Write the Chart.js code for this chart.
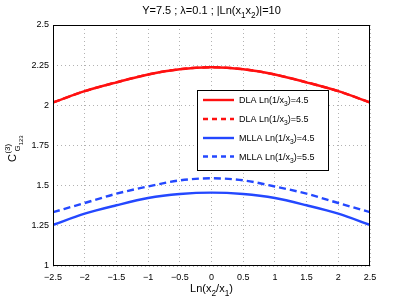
<!DOCTYPE html>
<html>
<head>
<meta charset="utf-8">
<script src="https://cdn.jsdelivr.net/npm/chart.js@4/dist/chart.umd.min.js"></script>
<style>
  body { margin: 0; background: #fff; }
  canvas { display: block; }
</style>
</head>
<body>
<canvas id="myChart" width="409" height="300"></canvas>
<script>
  // values
  var xValues = [-2.5, -2, -1.5, -1, -0.5, 0, 0.5, 1, 1.5, 2, 2.5];
  var dla45 = [2.018, 2.088, 2.143, 2.192, 2.225, 2.237, 2.225, 2.192, 2.143, 2.088, 2.018];
  var dla55 = [2.018, 2.088, 2.143, 2.192, 2.225, 2.237, 2.225, 2.192, 2.143, 2.088, 2.018];
  var mlla45 = [1.256, 1.326, 1.378, 1.423, 1.448, 1.457, 1.448, 1.423, 1.378, 1.326, 1.256];
  var mlla55 = [1.335, 1.392, 1.45, 1.495, 1.533, 1.546, 1.533, 1.495, 1.45, 1.392, 1.335];
  var seriesNames = ["DLA Ln(1/x|3|)=4.5", "DLA Ln(1/x|3|)=5.5", "MLLA Ln(1/x|3|)=4.5", "MLLA Ln(1/x|3|)=5.5"];

  var RED = "#ff1010";
  var BLUE = "#2448ff";
  var FONT = "'Liberation Sans', Arial, sans-serif";

  function pts(ys) {
    return xValues.map(function (x, i) { return { x: x, y: ys[i] }; });
  }

  function fmt(v) {
    return String(v).replace("-", "\u2212");
  }

  function makeSet(i, data, color, dashed) {
    return {
      label: seriesNames[i],
      data: pts(data),
      borderColor: color,
      borderWidth: 2.4,
      borderDash: dashed ? [7, 4] : [],
      pointRadius: 0,
      fill: false,
      cubicInterpolationMode: "monotone",
    };
  }

  // text with subscripts: segs = [[text, isSub], ...]
  function drawSegs(ctx, segs, x, y, size, align) {
    var w = 0;
    segs.forEach(function (s) {
      ctx.font = (s[1] ? size * 0.75 : size) + "px " + FONT;
      w += ctx.measureText(s[0]).width;
    });
    if (align === "center") x -= w / 2;
    ctx.textAlign = "left";
    ctx.textBaseline = "alphabetic";
    segs.forEach(function (s) {
      ctx.font = (s[1] ? size * 0.75 : size) + "px " + FONT;
      ctx.fillText(s[0], x, y + (s[1] ? size * 0.32 : 0));
      x += ctx.measureText(s[0]).width;
    });
  }

  var texts = {
    id: "texts",
    afterDraw: function (chart) {
      var ctx = chart.ctx;
      var a = chart.chartArea;
      ctx.save();

      // axes box
      ctx.setLineDash([]);
      ctx.strokeStyle = "#000";
      ctx.lineWidth = 1;
      ctx.strokeRect(Math.round(a.left) + 0.5, Math.round(a.top) + 0.5,
        Math.round(a.right - a.left) - 1, Math.round(a.bottom - a.top) - 1);

      ctx.fillStyle = "#000";
      // title: Y=7.5 ; λ=0.1 ; |Ln(x1x2)|=10
      var cx = (a.left + a.right) / 2;
      var segs = [["Y=7.5 ; \u03bb=0.1 ; |Ln(x", 0], ["1", 1], ["x", 0], ["2", 1], [")|=10", 0]];
      drawSegs(ctx, segs, cx, 14, 11, "center");

      // x label
      drawSegs(ctx, [["Ln(x", 0], ["2", 1], ["/x", 0], ["1", 1], [")", 0]], cx, 292, 11, "center");

      // y label, rotated
      ctx.save();
      ctx.translate(16, 162);
      ctx.rotate(-Math.PI / 2);
      ctx.font = "11px " + FONT;
      ctx.textAlign = "left";
      ctx.fillText("C", 0, 0);
      var cw = ctx.measureText("C").width + 0.5;
      ctx.font = "8px " + FONT;
      ctx.fillText("(3)", cw, -6);
      ctx.fillText("G", cw + 2, 4);
      var gw = ctx.measureText("G").width;
      ctx.font = "6px " + FONT;
      ctx.fillText("123", cw + 2 + gw, 7);
      ctx.restore();

      // legend box
      var lx = 197, ly = 90, lw = 131, lh = 80;
      ctx.fillStyle = "#fff";
      ctx.fillRect(lx, ly, lw, lh);
      ctx.strokeStyle = "#000";
      ctx.lineWidth = 1;
      ctx.strokeRect(lx + 0.5, ly + 0.5, lw, lh);
      var rows = [100, 119, 138, 156.5];
      chart.data.datasets.forEach(function (ds, i) {
        var y = rows[i];
        ctx.strokeStyle = ds.borderColor;
        ctx.lineWidth = 2.4;
        ctx.setLineDash(ds.borderDash.length ? [5, 4] : []);
        ctx.beginPath();
        ctx.moveTo(203, y);
        ctx.lineTo(234, y);
        ctx.stroke();
        ctx.setLineDash([]);
        ctx.fillStyle = "#000";
        var p = ds.label.split("|");
        drawSegs(ctx, [[p[0], 0], [p[1], 1], [p[2], 0]], 239, y + 3.3, 9, "left");
      });
      ctx.restore();
    },
  };

  var grid = {
    color: "rgba(0,0,0,0.3)",
    lineWidth: 1,
    drawTicks: false,
  };

  var ctx = document.getElementById("myChart").getContext("2d");
  var chart = new Chart(ctx, {
    type: "line",
    data: {
      datasets: [
        makeSet(0, dla45, RED, false),
        makeSet(1, dla55, RED, true),
        makeSet(2, mlla45, BLUE, false),
        makeSet(3, mlla55, BLUE, true),
      ],
    },
    options: {
      responsive: false,
      animation: false,
      devicePixelRatio: 1,
      layout: { padding: { top: 25, right: 39, left: 0, bottom: 0 } },
      plugins: {
        legend: { display: false },
        title: { display: false },
        tooltip: { enabled: false },
      },
      scales: {
        x: {
          type: "linear",
          min: -2.5,
          max: 2.5,
          grid: grid,
          border: { display: false, dash: [1, 3] },
          ticks: {
            stepSize: 0.5,
            color: "#000",
            font: { family: FONT, size: 9 },
            padding: 6,
            maxRotation: 0,
            callback: function (v) { return fmt(v); },
          },
          afterFit: function (s) { s.height = 34; },
        },
        y: {
          min: 1,
          max: 2.5,
          grid: grid,
          border: { display: false, dash: [1, 3] },
          ticks: {
            stepSize: 0.25,
            color: "#000",
            font: { family: FONT, size: 9 },
            padding: 4,
            callback: function (v) { return fmt(v); },
          },
          afterFit: function (s) { s.width = 53; },
        },
      },
    },
    plugins: [texts],
  });
</script>
</body>
</html>
